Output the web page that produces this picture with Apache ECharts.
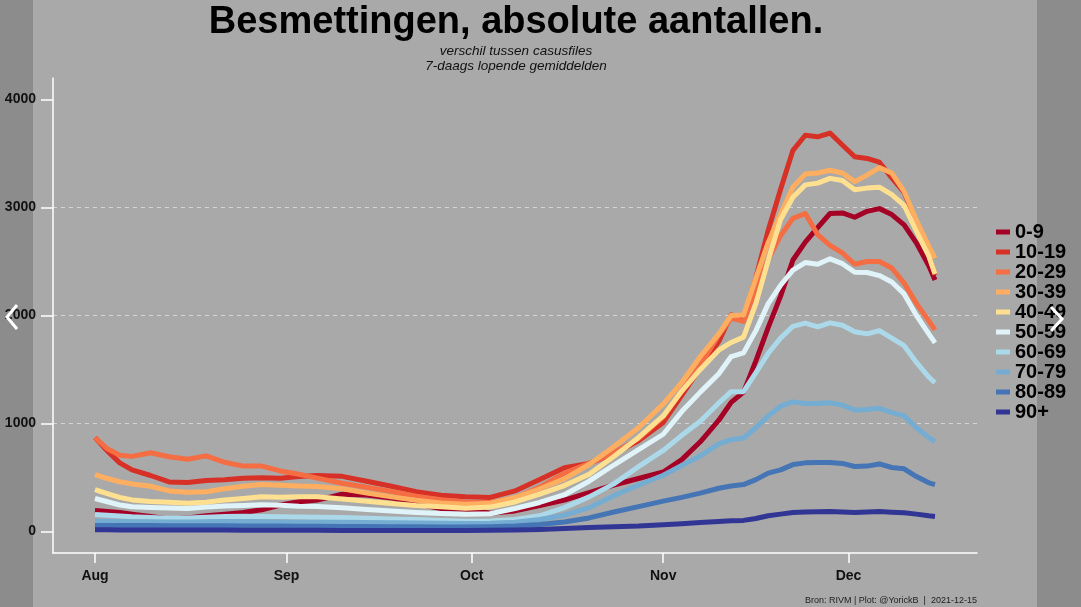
<!DOCTYPE html>
<html>
<head>
<meta charset="utf-8">
<script src="https://cdn.jsdelivr.net/npm/echarts@6/dist/echarts.min.js"></script>
<style>
html,body{margin:0;padding:0;background:#a9a9a9;}
#chart{width:1081px;height:607px;}
</style>
</head>
<body>
<div id="chart"></div>
<script>
// days since 1 Aug 2021
var days = [0,2,4,6,9,12,15,18,21,24,27,30,33,36,40,44,48,52,56,60,64,68,72,76,80,84,88,92,95,98,101,103,105,107,109,111,113,115,117,119,121,123,125,127,129,131,133,135,136];
var monthTicks = [0,31,61,92,122];
var monthLabels = ['Aug','Sep','Oct','Nov','Dec'];
var yTicks = [0,1000,2000,3000,4000];
var groups = ['0-9','10-19','20-29','30-39','40-49','50-59','60-69','70-79','80-89','90+'];

var s09   = [194,185,176,160,138,115,125,145,160,176,200,245,275,290,345,337,310,255,212,205,168,190,240,290,360,430,490,550,665,830,1030,1195,1290,1580,1890,2180,2514,2680,2815,2945,2950,2910,2965,2990,2935,2840,2671,2460,2329];
var s1019 = [869,745,635,570,518,458,453,471,478,492,497,492,508,518,510,464,418,368,336,321,315,375,481,590,630,720,840,1010,1260,1514,1760,2005,1980,2350,2790,3170,3530,3670,3655,3690,3580,3470,3455,3420,3275,3140,2856,2550,2375];
var s2029 = [869,765,705,695,728,692,668,700,640,605,605,560,530,494,446,409,370,326,294,272,268,310,410,540,630,730,860,1060,1300,1540,1820,1975,1945,2250,2520,2740,2900,2945,2750,2650,2580,2475,2500,2500,2440,2300,2110,1950,1867];
var s3039 = [527,490,460,440,418,375,362,368,395,418,434,428,420,416,395,356,320,288,264,252,262,314,395,487,620,785,960,1180,1380,1620,1830,2000,2005,2346,2677,2940,3189,3310,3320,3345,3320,3240,3300,3370,3320,3150,2880,2640,2532];
var s4049 = [388,350,315,292,277,269,261,270,290,305,320,316,322,320,300,280,258,240,228,215,225,273,345,425,530,694,870,1070,1300,1500,1680,1750,1800,2110,2513,2890,3096,3210,3226,3270,3250,3165,3180,3189,3120,3020,2780,2550,2384];
var s5059 = [305,275,245,228,222,216,213,225,235,240,248,243,233,231,220,204,190,176,166,158,163,212,268,340,465,615,757,900,1110,1290,1460,1620,1654,1860,2110,2280,2420,2490,2475,2525,2480,2400,2398,2370,2310,2200,2000,1830,1747];
var s6069 = [157,150,142,135,130,122,125,132,138,140,138,136,134,132,128,122,116,110,102,95,96,110,145,220,320,440,600,750,890,1020,1190,1294,1294,1470,1650,1790,1900,1930,1895,1932,1910,1850,1830,1860,1790,1720,1565,1430,1377];
var s7079 = [95,93,92,90,90,88,88,90,92,92,90,88,86,85,84,82,80,78,76,74,76,85,110,150,220,330,430,520,610,700,810,850,865,960,1070,1160,1200,1185,1185,1192,1170,1125,1130,1140,1100,1070,960,870,832];
var s8089 = [55,55,55,54,54,53,52,52,52,51,50,49,48,47,46,45,44,43,42,42,44,50,65,88,125,180,230,280,315,355,400,420,434,480,540,570,619,635,638,638,630,601,605,625,592,580,508,450,434];
var s90   = [15,15,14,14,13,13,12,12,12,11,11,10,10,10,9,9,9,9,9,9,10,12,18,26,36,44,50,62,72,83,92,98,102,120,145,160,176,180,183,185,180,176,180,185,178,172,160,145,139];

var colors = ['#a50026','#d73027','#f46d43','#fdae61','#fee090','#e0f3f8','#abd9e9','#74add1','#4575b4','#313695'];
var allSeries = [s09,s1019,s2029,s3039,s4049,s5059,s6069,s7079,s8089,s90];

var FONT = "'Liberation Sans', Arial, sans-serif";

function pairs(vals){ return days.map(function(d,i){ return [d, vals[i]]; }); }

var series = groups.map(function(g, k){
  return {
    name: g, type: 'line', data: pairs(allSeries[k]),
    showSymbol: false, symbol: 'none', smooth: false,
    lineStyle: {color: colors[k], width: 5, cap: 'butt', join: 'round'},
    itemStyle: {color: colors[k]},
    emphasis: {disabled: true},
    animation: false
  };
});

var chart = echarts.init(document.getElementById('chart'), null, {renderer: 'canvas'});
chart.setOption({
  backgroundColor: '#a9a9a9',
  animation: false,
  textStyle: {fontFamily: FONT},
  grid: {left: 53, right: 104, top: 78, bottom: 54, containLabel: false},
  xAxis: {
    type: 'value', min: -6.8, max: 142.8,
    axisLine: {show: true, onZero: false, lineStyle: {color: '#ffffff', width: 1.5}},
    axisTick: {show: true, customValues: monthTicks, length: 10, lineStyle: {color: '#ffffff', width: 1.5}},
    axisLabel: {show: true, customValues: monthTicks, margin: 16, color: '#111', fontSize: 14, fontWeight: 'bold', fontFamily: FONT,
      formatter: function(v){ var i = monthTicks.indexOf(Math.round(v)); return i >= 0 ? monthLabels[i] : ''; }},
    splitLine: {show: false}
  },
  yAxis: {
    type: 'value', min: -200, max: 4200, splitNumber: 5,
    axisLine: {show: true, onZero: false, lineStyle: {color: '#ffffff', width: 1.5}},
    axisTick: {show: true, customValues: yTicks, length: 12, lineStyle: {color: '#ffffff', width: 1.5}},
    axisLabel: {show: true, customValues: yTicks, margin: 17, color: '#111', fontSize: 14, fontWeight: 'bold', fontFamily: FONT,
      formatter: function(v){ return String(Math.round(v)); }},
    splitLine: {show: true, showMinLine: false, showMaxLine: false, lineStyle: {color: '#d4d4d4', width: 1, type: [4, 4]}}
  },
  legend: {
    orient: 'vertical', left: 996, top: 222, padding: 0, icon: 'rect', itemWidth: 14, itemHeight: 5, itemGap: 0,
    data: groups, selectedMode: false,
    textStyle: {fontSize: 20, fontWeight: 'bold', color: '#000', fontFamily: FONT, lineHeight: 19.6}
  },
  graphic: [
    {type: 'rect', z: -10, shape: {x: 0, y: 0, width: 33, height: 607}, style: {fill: '#8c8c8c'}, silent: true},
    {type: 'rect', z: -10, shape: {x: 1037, y: 0, width: 44, height: 607}, style: {fill: '#8c8c8c'}, silent: true},
    {type: 'text', x: 516, y: 23, z: 10, style: {text: 'Besmettingen, absolute aantallen.', font: "bold 38px " + FONT, fill: '#000', textAlign: 'center', textVerticalAlign: 'middle'}},
    {type: 'text', x: 516, y: 51, z: 10, style: {text: 'verschil tussen casusfiles', font: "italic 13.5px " + FONT, fill: '#111', textAlign: 'center', textVerticalAlign: 'middle'}},
    {type: 'text', x: 516, y: 66, z: 10, style: {text: '7-daags lopende gemiddelden', font: "italic 13.5px " + FONT, fill: '#111', textAlign: 'center', textVerticalAlign: 'middle'}},
    {type: 'text', x: 977, y: 601, z: 10, style: {text: 'Bron: RIVM | Plot: @YorickB  |  2021-12-15', font: "9px " + FONT, fill: '#222', textAlign: 'right', textVerticalAlign: 'middle'}},
    {type: 'polyline', z: 100, shape: {points: [[17,305],[7,317],[17,329]]}, style: {stroke: '#ffffff', lineWidth: 3, fill: null}},
    {type: 'polyline', z: 100, shape: {points: [[1051,307],[1062,319],[1051,331]]}, style: {stroke: '#ffffff', lineWidth: 3, fill: null}}
  ],
  series: series
});
</script>
</body>
</html>
